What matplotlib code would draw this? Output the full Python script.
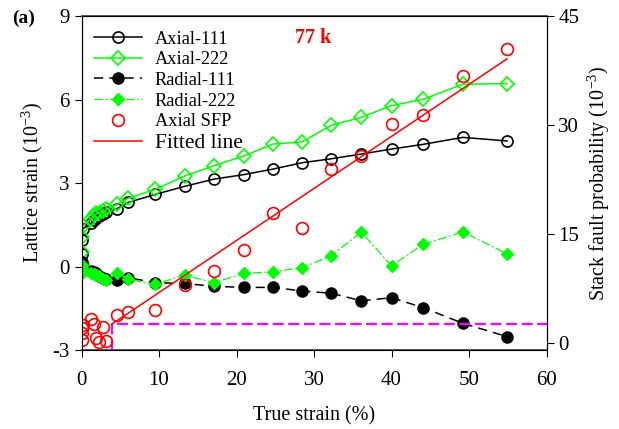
import numpy as np
from matplotlib import pyplot as plt

plt.rcParams['font.family'] = ['Liberation Serif', 'DejaVu Serif']
plt.rcParams['mathtext.fontset'] = 'custom'
plt.rcParams['mathtext.rm'] = 'Liberation Serif'
plt.rcParams['axes.unicode_minus'] = False

# data
strain = [0, 0.05, 0.1, 0.15, 1.2, 1.6, 1.9, 2.3, 2.8, 3.2, 4.6, 6.0,
          9.5, 13.3, 17.1, 20.9, 24.7, 28.5, 32.2, 36.1, 40.0, 44.1, 49.2, 54.9]
axial_111 = [0.05, 0.45, 0.95, 1.35, 1.55, 1.68, 1.75, 1.82, 1.88, 1.95, 2.08, 2.30,
             2.59, 2.88, 3.14, 3.30, 3.50, 3.73, 3.87, 4.04, 4.22, 4.39, 4.64, 4.51]
axial_222 = [0.1, 0.53, 1.05, 1.45, 1.7, 1.85, 1.91, 1.93, 1.98, 2.05, 2.24, 2.45,
             2.77, 3.25, 3.62, 3.97, 4.40, 4.48, 5.07, 5.36, 5.78, 6.01, 6.55, 6.57]
radial_111 = [0.15, 0.05, -0.05, -0.1, -0.15, -0.2, -0.25, -0.35, -0.4, -0.45, -0.48, -0.4,
              -0.58, -0.61, -0.71, -0.75, -0.75, -0.88, -0.96, -1.23, -1.12, -1.48, -2.04, -2.52]
radial_222 = [0.05, -0.05, -0.12, -0.2, -0.25, -0.28, -0.3, -0.35, -0.45, -0.49, -0.22, -0.45,
              -0.64, -0.31, -0.58, -0.25, -0.19, -0.04, 0.38, 1.24, 0.02, 0.80, 1.24, 0.46]
sfp = [2.0, 0.4, 1.4, 2.5, 3.3, 2.6, 0.6, 0.1, 2.2, 0.3, 3.8, 4.3,
       4.57, 8.0, 9.85, 12.8, 17.9, 15.8, 23.9, 25.7, 30.1, 31.3, 36.8, 40.4]

fit_x = [3.9, 54.9]
fit_y = [2.55, 39.1]

box_x = [3.9, 3.9, 60]
box_y = [-1, 2.55, 2.55]

fig = plt.figure(figsize=(6.19, 4.29), dpi=100)
ax = fig.add_axes([0.1317, 0.1841, 0.7513, 0.7786])
ax2 = ax.twinx()

green = '#00ff00'
l1, = ax.plot(strain, axial_111, '-', color='black', lw=1.1, marker='o', ms=8,
              mfc='none', mec='black', mew=1.2, label='Axial-111')
l2, = ax.plot(strain, axial_222, '-', color=green, lw=1.1, marker='D', ms=7.5,
              mfc='none', mec=green, mew=1.2, label='Axial-222')
l3, = ax.plot(strain, radial_111, color='black', lw=1.1, dashes=(6, 4), marker='o', ms=8,
              mfc='black', mec='black', label='Radial-111')
l4, = ax.plot(strain, radial_222, color=green, lw=0.9, dashes=(7, 2, 1.5, 2), marker='D', ms=6,
              mfc=green, mec=green, label='Radial-222')

ax2.plot(box_x, box_y, color='#ff00ff', lw=1.6, dashes=(5, 2))
l5, = ax2.plot(strain, sfp, 'o', ms=8.5, mfc='none', mec='red', mew=1.2, label='Axial SFP')
l6, = ax2.plot(fit_x, fit_y, '-', color='red', lw=1.1, label='Fitted line')

ax.set_xlim(0, 60)
ax.set_ylim(-3, 9)
ax2.set_ylim(-1, 45)
ax.set_xticks(np.arange(0, 61, 10))
ax.set_yticks([-3, 0, 3, 6, 9])
ax2.set_yticks([0, 15, 30, 45])

for a in (ax, ax2):
    a.tick_params(direction='out', labelsize=15, length=5, width=0.8)
    for s in a.spines.values():
        s.set_linewidth(0.8)
ax.tick_params(axis='x', pad=10)
ax.spines['top'].set_color('#555555')
ax.spines['bottom'].set_color('#555555')
ax.spines['top'].set_linewidth(1.4)
ax.spines['bottom'].set_linewidth(1.4)

ax.set_xlabel('True strain (%)', fontsize=14.5, labelpad=12)
ax.set_ylabel('Lattice strain (10$^{-3}$)', fontsize=14.5, labelpad=5)
ax2.set_ylabel('Stack fault probability (10$^{-3}$)', fontsize=14.5, labelpad=4)

ax.text(0.46, 0.965, '77 k', transform=ax.transAxes, color='red', fontsize=14.5,
        fontweight='bold', va='top', ha='left')
fig.text(0.02, 0.978, '(a)', fontsize=14, fontweight='bold', va='top')

leg = ax2.legend([l1, l2, l3, l4, l5, l6],
                 ['Axial-111', 'Axial-222', 'Radial-111', 'Radial-222', 'Axial SFP', 'Fitted line'],
                 loc='upper left', bbox_to_anchor=(0.0, 0.995), frameon=False, fontsize=13.2,
                 handlelength=2.6, handletextpad=0.7, labelspacing=0.2, borderaxespad=0.3)
leg.get_texts()[-1].set_fontsize(15.5)

fig.savefig('out.png', dpi=100)
